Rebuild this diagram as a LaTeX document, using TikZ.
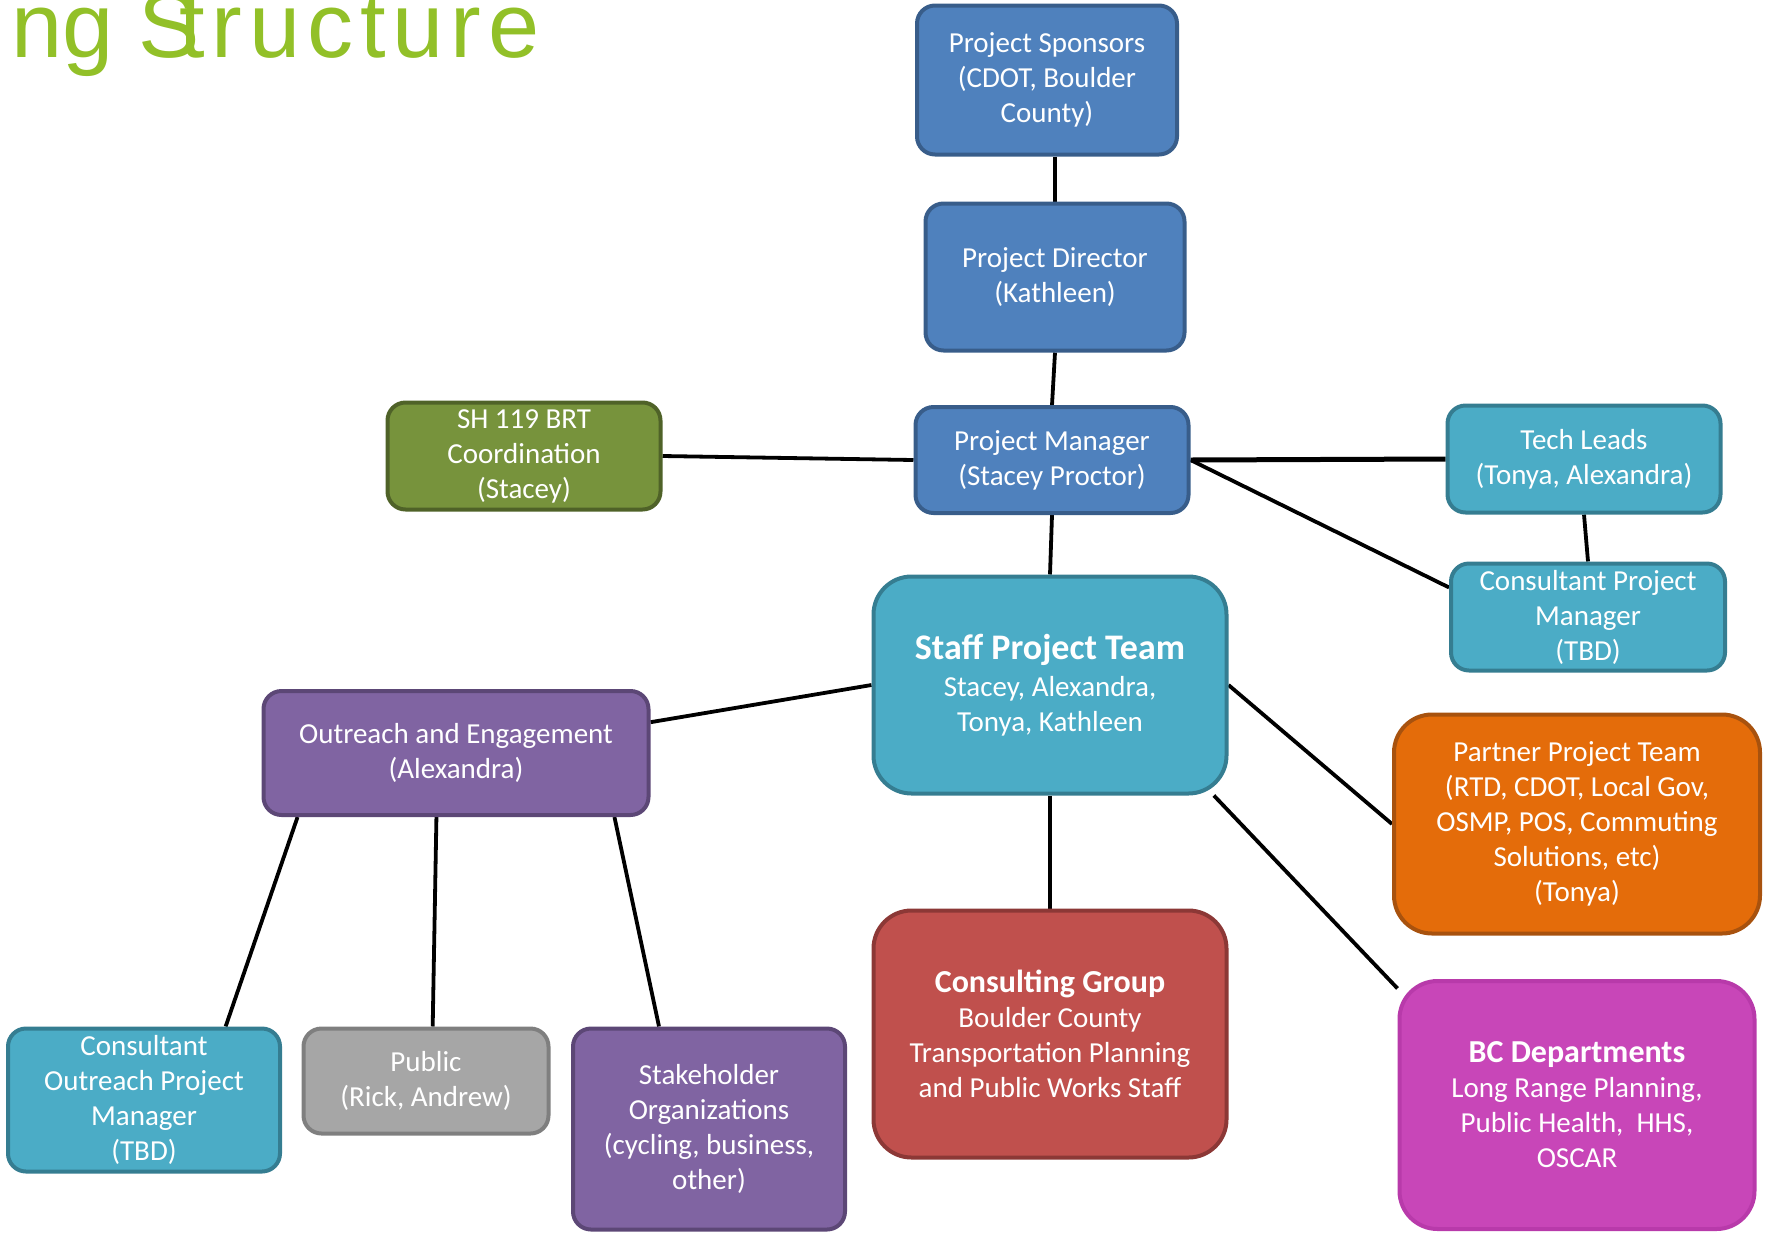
\documentclass[tikz,border=0pt]{standalone}
\usepackage{fontspec}
\setmainfont{Carlito}
\newfontfamily\titlefont{Liberation Sans}
\usetikzlibrary{backgrounds}

\tikzset{
	unit/.style={rectangle, rounded corners=18pt, line width=4pt, text=white, align=center, inner sep=0pt, font=\fontsize{29}{35}\selectfont},
	bigunit/.style={rounded corners=38pt},
	blueunit/.style={unit, fill={rgb,255:red,79;green,129;blue,189}, draw={rgb,255:red,56;green,93;blue,138}},
	greenunit/.style={unit, fill={rgb,255:red,119;green,147;blue,60}, draw={rgb,255:red,79;green,98;blue,40}},
	tealunit/.style={unit, fill={rgb,255:red,75;green,172;blue,198}, draw={rgb,255:red,53;green,125;blue,145}},
	purpleunit/.style={unit, fill={rgb,255:red,128;green,100;blue,162}, draw={rgb,255:red,92;green,71;blue,118}},
	orangeunit/.style={unit, fill={rgb,255:red,228;green,108;blue,10}, draw={rgb,255:red,168;green,82;blue,14}},
	redunit/.style={unit, fill={rgb,255:red,192;green,80;blue,77}, draw={rgb,255:red,140;green,56;blue,54}},
	pinkunit/.style={unit, fill={rgb,255:red,200;green,70;blue,184}, draw={rgb,255:red,184;green,58;blue,170}},
	greyunit/.style={unit, fill={rgb,255:red,166;green,166;blue,166}, draw={rgb,255:red,127;green,127;blue,127}},
	link/.style={line width=3.8pt, black},
	titletext/.style={anchor=base west, inner sep=0pt, text={rgb,255:red,146;green,192;blue,40}, font=\titlefont\fontsize{92}{100}\selectfont}
}
\newcommand{\unithead}[1]{{\fontsize{32}{35}\selectfont\bfseries #1}}

\begin{document}
\begin{tikzpicture}[x=1pt,y=1pt,yscale=-1]
	\useasboundingbox (0,0) rectangle (1767,1235);
	\node[titletext] (heading) at (11,57) {ng S\kern-21pt{\addfontfeature{LetterSpace=7.5}tructure}};

	\node[blueunit, minimum width=260pt, minimum height=149pt] (sponsors) at (1047,80) {Project Sponsors\\(CDOT, Boulder\\County)};
	\node[blueunit, minimum width=259pt, minimum height=147pt] (director) at (1055,277) {Project Director\\(Kathleen)};
	\node[blueunit, minimum width=273pt, minimum height=106pt] (manager) at (1052,460) {Project Manager\\(Stacey Proctor)};
	\node[greenunit, minimum width=273pt, minimum height=107pt] (brt) at (524,456) {SH 119 BRT\\Coordination\\(Stacey)};
	\node[tealunit, minimum width=273pt, minimum height=107pt] (tech) at (1584,459) {Tech Leads\\(Tonya, Alexandra)};
	\node[tealunit, minimum width=274pt, minimum height=107pt] (consultpm) at (1588,617) {Consultant Project\\Manager\\(TBD)};
	\node[tealunit, bigunit, minimum width=353pt, minimum height=217pt] (staff) at (1050,685) {{\fontsize{36}{40}\selectfont\bfseries Staff Project Team}\\[2pt]Stacey, Alexandra,\\Tonya, Kathleen};
	\node[purpleunit, minimum width=385pt, minimum height=124pt] (outreach) at (456,753) {Outreach and Engagement\\(Alexandra)};
	\node[orangeunit, bigunit, minimum width=366pt, minimum height=219pt] (partner) at (1577,824) {Partner Project Team\\(RTD, CDOT, Local Gov,\\OSMP, POS, Commuting\\Solutions, etc)\\(Tonya)};
	\node[redunit, bigunit, minimum width=353pt, minimum height=247pt] (consulting) at (1050,1034) {\unithead{Consulting Group}\\Boulder County\\Transportation Planning\\and Public Works Staff};
	\node[pinkunit, bigunit, minimum width=355pt, minimum height=248pt] (bcdept) at (1577,1105) {\unithead{BC Departments}\\Long Range Planning,\\Public Health,~ HHS,\\OSCAR};
	\node[tealunit, minimum width=272pt, minimum height=143pt] (outreachpm) at (144,1100) {Consultant\\Outreach Project\\Manager\\(TBD)};
	\node[greyunit, minimum width=245pt, minimum height=105pt] (public) at (426,1081) {Public\\(Rick, Andrew)};
	\node[purpleunit, minimum width=272pt, minimum height=201pt] (stakeholder) at (709,1129) {Stakeholder\\Organizations\\(cycling, business,\\other)};

	\begin{scope}[on background layer]
		\draw[link] (sponsors.south -| director.north) -- (director.north);
		\draw[link] (director.south) -- (manager.north);
		\draw[link] (brt.east) -- (manager.west);
		\draw[link, line width=5pt] (manager.east) -- (tech.west);
		\draw[link] (manager.east) -- (consultpm.168);
		\draw[link] (tech.south) -- (consultpm.north);
		\draw[link] (manager.south) -- (staff.north);
		\draw[link] (outreach.9) -- (staff.west);
		\draw[link] (staff.east) -- (partner.west);
		\draw[link] (staff.-34) -- (bcdept.147);
		\draw[link] (staff.south) -- (consulting.north);
		\draw[link] (outreach.-158) -- (outreachpm.42);
		\draw[link] (outreach.-107) -- (public.83);
		\draw[link] (outreach.-22.6) -- (stakeholder.116);
	\end{scope}
\end{tikzpicture}
\end{document}
